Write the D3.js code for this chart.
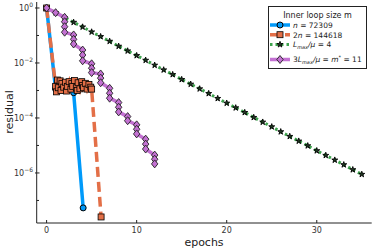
<!DOCTYPE html>
<html>
<head>
<meta charset="utf-8">
<script src="https://cdn.jsdelivr.net/npm/d3@7"></script>
<style>
  body { margin: 0; background: #fff; }
  svg { display: block; font-family: "DejaVu Sans", sans-serif; }
</style>
</head>
<body>
<svg id="chart" width="374" height="249"></svg>
<script>
// values: epochs and log10(residual)
const blueX   = [0, 1.0, 1.5, 2.0, 2.5, 3.0, 4.06];
const blueExp = [0, -2.95, -2.85, -3.0, -2.9, -3.08, -7.27];

const orangeX   = [0, 1.0, 1.1, 1.2, 1.3, 1.5, 1.6, 1.7, 1.9, 2.1, 2.2, 2.3, 2.5, 2.7, 2.8, 2.9, 3.1, 3.3, 3.4, 3.5, 3.7, 3.9, 4.0, 4.1, 4.3, 4.5, 4.7, 4.9, 5.0, 6.05];
const orangeExp = [0, -2.85, -3.05, -2.62, -2.9, -2.65, -3.0, -2.75, -2.88, -2.7, -3.02, -2.85, -2.68, -2.95, -2.75, -2.85, -2.64, -2.9, -3.0, -2.72, -2.94, -2.68, -2.82, -2.9, -2.74, -2.95, -2.78, -2.88, -2.95, -7.6];

const greenX   = [0, 1, 2, 3, 4, 5, 6, 7, 8, 9, 10, 11, 12, 13, 14, 15, 16, 17, 18, 19, 20, 21, 22, 23, 24, 25, 26, 27, 28, 29, 30, 31, 32, 33, 34, 35];
const greenExp = [0, -0.17, -0.35, -0.52, -0.69, -0.87, -1.04, -1.21, -1.39, -1.56, -1.73, -1.9, -2.08, -2.25, -2.42, -2.6, -2.77, -2.94, -3.11, -3.29, -3.46, -3.63, -3.8, -3.98, -4.15, -4.32, -4.5, -4.67, -4.84, -5.01, -5.19, -5.36, -5.53, -5.7, -5.88, -6.05];

const purpleX   = [0, 1, 2, 2, 2, 2, 3, 3, 3, 4, 4, 4, 5, 5, 5, 6, 6, 6, 7, 7, 7, 8, 8, 8, 9, 9, 10, 10, 10, 11, 11, 11, 12, 12, 12];
const purpleExp = [0, -0.17, -0.34, -0.5, -0.68, -0.88, -0.98, -1.14, -1.31, -1.53, -1.71, -1.92, -2.03, -2.19, -2.35, -2.4, -2.55, -2.72, -2.92, -3.1, -3.28, -3.44, -3.61, -3.78, -3.95, -4.1, -4.25, -4.41, -4.58, -4.77, -4.95, -5.13, -5.35, -5.5, -5.67];

const xTicks = [0, 10, 20, 30];
const yMajor = [0, -2, -4, -6];
const yMinor = [-1, -3, -5, -7];

const svg = d3.select("#chart");

const x = d3.scaleLinear().domain([-1.1, 36.1]).range([36.7, 371.7]);
const y = d3.scaleLog().domain([Math.pow(10, 0.218), Math.pow(10, -7.82)]).range([2, 223]);

const pts = (xs, es) => xs.map((v, i) => ({x: v, y: Math.pow(10, es[i])}));
const line = d3.line().x(d => x(d.x)).y(d => y(d.y));

// axes
const axisColor = "#222";
svg.append("line").attr("x1", 36.7).attr("x2", 36.7).attr("y1", 2).attr("y2", 223)
    .attr("stroke", axisColor).attr("stroke-width", 1);
svg.append("line").attr("x1", 36.7).attr("x2", 371.7).attr("y1", 223).attr("y2", 223)
    .attr("stroke", axisColor).attr("stroke-width", 1);

xTicks.forEach(t => {
    svg.append("line").attr("x1", x(t)).attr("x2", x(t)).attr("y1", 223).attr("y2", 220)
        .attr("stroke", axisColor);
    svg.append("text").attr("x", x(t)).attr("y", 233)
        .attr("text-anchor", "middle").style("font-size", "8px").attr("fill", "#333")
        .text(t);
});

yMajor.forEach(e => {
    const yy = y(Math.pow(10, e));
    svg.append("line").attr("x1", 35).attr("x2", 39.5).attr("y1", yy).attr("y2", yy)
        .attr("stroke", axisColor);
    const t = svg.append("text").attr("x", 33).attr("y", yy + 3)
        .attr("text-anchor", "end").style("font-size", "8px").attr("fill", "#333");
    t.append("tspan").text("10");
    t.append("tspan").attr("dy", -4).style("font-size", "6px").text(e === 0 ? "0" : "\u2212" + (-e));
});
yMinor.forEach(e => {
    const yy = y(Math.pow(10, e));
    svg.append("line").attr("x1", 36.7).attr("x2", 39).attr("y1", yy).attr("y2", yy)
        .attr("stroke", axisColor);
});

svg.append("text").attr("x", 204).attr("y", 246).attr("text-anchor", "middle")
    .style("font-size", "11px").attr("fill", "#222").text("epochs");
svg.append("text").attr("transform", "translate(13,112) rotate(-90)").attr("text-anchor", "middle")
    .style("font-size", "11px").attr("fill", "#222").text("residual");

const colors = {blue: "#009AFA", orange: "#E36F47", green: "#3EA44E", purple: "#C371D2"};

const star = d3.symbol().type(d3.symbolStar).size(11);
const diamond = "M0,-4L3.2,0L0,4L-3.2,0Z";

function drawSeries(data, color, width, dash, marker) {
    const g = svg.append("g");
    g.append("path").datum(data).attr("d", line).attr("fill", "none")
        .attr("stroke", color).attr("stroke-width", width)
        .attr("stroke-dasharray", dash);
    const m = g.selectAll(".m").data(data).enter();
    if (marker === "circle") {
        m.append("circle").attr("cx", d => x(d.x)).attr("cy", d => y(d.y)).attr("r", 3)
            .attr("fill", color).attr("stroke", "#000").attr("stroke-width", 1);
    } else if (marker === "square") {
        m.append("rect").attr("x", d => x(d.x) - 3).attr("y", d => y(d.y) - 3)
            .attr("width", 6).attr("height", 6)
            .attr("fill", color).attr("stroke", "#000").attr("stroke-width", 0.8);
    } else if (marker === "star") {
        m.append("path").attr("d", star).attr("transform", d => `translate(${x(d.x)},${y(d.y)})`)
            .attr("fill", "#1f3a22").attr("stroke", "#000").attr("stroke-width", 0.9);
    } else {
        m.append("path").attr("d", diamond).attr("transform", d => `translate(${x(d.x)},${y(d.y)})`)
            .attr("fill", color).attr("stroke", "#222").attr("stroke-width", 0.9);
    }
}

drawSeries(pts(blueX, blueExp), colors.blue, 3.5, null, "circle");
drawSeries(pts(orangeX, orangeExp), colors.orange, 3.5, "10,5", "square");
drawSeries(pts(greenX, greenExp), colors.green, 3, "2.5,3", "star");
drawSeries(pts(purpleX, purpleExp), colors.purple, 3.5, null, "diamond");

// legend
const lg = svg.append("g");
lg.append("rect").attr("x", 268.5).attr("y", 6.5).attr("width", 98).attr("height", 62)
    .attr("fill", "#fff").attr("stroke", "#222").attr("stroke-width", 1);
lg.append("text").attr("x", 317.5).attr("y", 17.5).attr("text-anchor", "middle")
    .style("font-size", "8px").attr("fill", "#222").text("Inner loop size m");

const legendRows = [
    {c: colors.blue, w: 3.5, dash: null, m: "circle", y: 25},
    {c: colors.orange, w: 3.5, dash: "10,5", m: "square", y: 34.7},
    {c: colors.green, w: 3, dash: "2.5,3", m: "star", y: 44.5},
    {c: colors.purple, w: 3.5, dash: null, m: "diamond", y: 59.5}
];
legendRows.forEach(r => {
    lg.append("line").attr("x1", 270).attr("x2", 290).attr("y1", r.y).attr("y2", r.y)
        .attr("stroke", r.c).attr("stroke-width", r.w).attr("stroke-dasharray", r.dash);
    if (r.m === "circle") {
        lg.append("circle").attr("cx", 280).attr("cy", r.y).attr("r", 3)
            .attr("fill", r.c).attr("stroke", "#000");
    } else if (r.m === "square") {
        lg.append("rect").attr("x", 277).attr("y", r.y - 3).attr("width", 6).attr("height", 6)
            .attr("fill", r.c).attr("stroke", "#000").attr("stroke-width", 0.8);
    } else if (r.m === "star") {
        lg.append("path").attr("d", star).attr("transform", `translate(280,${r.y})`)
            .attr("fill", "#1f3a22").attr("stroke", "#000").attr("stroke-width", 0.9);
    } else {
        lg.append("path").attr("d", diamond).attr("transform", `translate(280,${r.y})`)
            .attr("fill", r.c).attr("stroke", "#222").attr("stroke-width", 0.9);
    }
});

const lt = (yy) => lg.append("text").attr("x", 293).attr("y", yy + 2.8)
    .style("font-size", "7.5px").attr("fill", "#222");
let t1 = lt(25);
t1.append("tspan").style("font-style", "italic").text("n");
t1.append("tspan").text(" = 72309");
let t2 = lt(34.7);
t2.append("tspan").text("2");
t2.append("tspan").style("font-style", "italic").text("n");
t2.append("tspan").text(" = 144618");
let t3 = lt(44.5);
t3.append("tspan").style("font-style", "italic").text("L");
t3.append("tspan").attr("dy", 1.5).style("font-size", "5px").style("font-style", "italic").text("max");
t3.append("tspan").attr("dy", -1.5).style("font-style", "italic").text("/\u03BC");
t3.append("tspan").text(" = 4");
let t4 = lt(59.5);
t4.append("tspan").text("3");
t4.append("tspan").style("font-style", "italic").text("L");
t4.append("tspan").attr("dy", 1.5).style("font-size", "5px").style("font-style", "italic").text("max");
t4.append("tspan").attr("dy", -1.5).style("font-style", "italic").text("/\u03BC");
t4.append("tspan").text(" = ");
t4.append("tspan").style("font-style", "italic").text("m");
t4.append("tspan").attr("dy", -3).style("font-size", "5px").text("*");
t4.append("tspan").attr("dy", 3).text(" = 11");
</script>
</body>
</html>
